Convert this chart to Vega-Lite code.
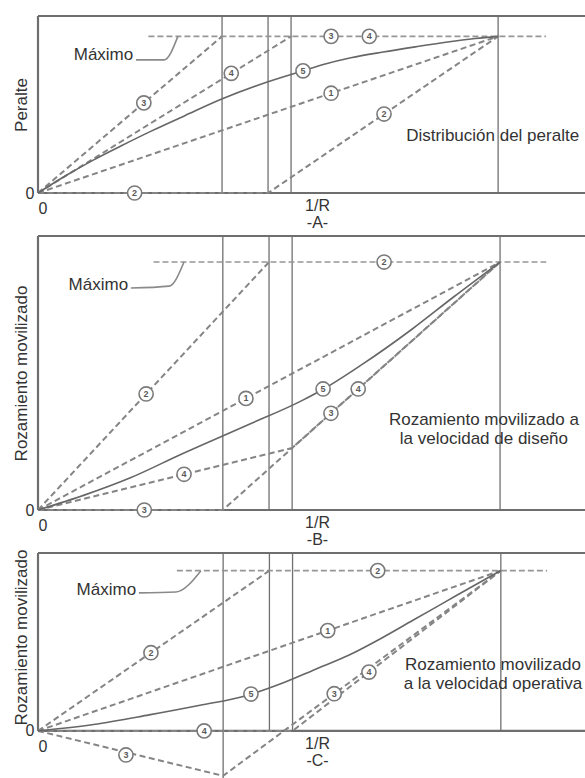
{
  "$schema": "https://vega.github.io/schema/vega-lite/v6.json",
  "background": "white",
  "padding": {"left": 12, "top": 14, "right": 0, "bottom": 0},
  "bounds": "flush",
  "spacing": 43,
  "config": {
    "font": "Liberation Sans",
    "view": {"stroke": null},
    "axis": {"labelColor": "#333333", "titleColor": "#333333", "labelFontSize": 16, "titleFontSize": 17, "titleFontWeight": "normal", "grid": false, "ticks": false, "domain": false}
  },
  "resolve": {"scale": {"x": "independent", "y": "independent"}},
  "datasets": {
    "marco": [
      {"panel": "A", "x": 0, "y": 0, "x2": 0, "y2": 113},
      {"panel": "A", "x": 0, "y": 113, "x2": 119.1, "y2": 113},
      {"panel": "A", "x": 0, "y": 0, "x2": 119.1, "y2": 0},
      {"panel": "B", "x": 0, "y": 0, "x2": 0, "y2": 110.5},
      {"panel": "B", "x": 0, "y": 110.5, "x2": 118.6, "y2": 110.5},
      {"panel": "B", "x": 0, "y": 0, "x2": 118.6, "y2": 0},
      {"panel": "C", "x": 0, "y": 0, "x2": 0, "y2": 111},
      {"panel": "C", "x": 0, "y": 111, "x2": 118.4, "y2": 111},
      {"panel": "C", "x": 0, "y": 0, "x2": 118.4, "y2": 0}
    ],
    "guias": [
      {"panel": "A", "x": 40, "y": 0, "x2": 40, "y2": 113},
      {"panel": "A", "x": 50, "y": 0, "x2": 50, "y2": 113},
      {"panel": "A", "x": 55, "y": 0, "x2": 55, "y2": 113},
      {"panel": "A", "x": 100, "y": 0, "x2": 100, "y2": 113},
      {"panel": "B", "x": 40, "y": 0, "x2": 40, "y2": 110.5},
      {"panel": "B", "x": 50, "y": 0, "x2": 50, "y2": 110.5},
      {"panel": "B", "x": 55, "y": 0, "x2": 55, "y2": 110.5},
      {"panel": "B", "x": 100, "y": 0, "x2": 100, "y2": 110.5},
      {"panel": "C", "x": 40, "y": -30, "x2": 40, "y2": 111},
      {"panel": "C", "x": 50, "y": 0, "x2": 50, "y2": 111},
      {"panel": "C", "x": 55, "y": 0, "x2": 55, "y2": 111},
      {"panel": "C", "x": 100, "y": 0, "x2": 100, "y2": 111}
    ],
    "maximo": [
      {"panel": "A", "x": 24, "y": 100}, {"panel": "A", "x": 110.4, "y": 100},
      {"panel": "B", "x": 25, "y": 100}, {"panel": "B", "x": 110, "y": 100},
      {"panel": "C", "x": 30, "y": 100}, {"panel": "C", "x": 110, "y": 100}
    ],
    "indicador": [
      {"panel": "A", "x": 21.3, "y": 85}, {"panel": "A", "x": 27.4, "y": 85}, {"panel": "A", "x": 30.4, "y": 100},
      {"panel": "B", "x": 20.1, "y": 89.5}, {"panel": "B", "x": 28.4, "y": 90.3}, {"panel": "B", "x": 31.6, "y": 100},
      {"panel": "C", "x": 21.8, "y": 86.1}, {"panel": "C", "x": 29.8, "y": 86.7}, {"panel": "C", "x": 35.2, "y": 100}
    ],
    "metodos": [
      {"panel": "A", "metodo": 1, "x": 0, "y": 0}, {"panel": "A", "metodo": 1, "x": 100, "y": 100},
      {"panel": "A", "metodo": 2, "x": 0, "y": 0}, {"panel": "A", "metodo": 2, "x": 50, "y": 0}, {"panel": "A", "metodo": 2, "x": 100, "y": 100},
      {"panel": "A", "metodo": 3, "x": 0, "y": 0}, {"panel": "A", "metodo": 3, "x": 40, "y": 100},
      {"panel": "A", "metodo": 4, "x": 0, "y": 0}, {"panel": "A", "metodo": 4, "x": 55, "y": 100},
      {"panel": "A", "metodo": 5, "x": 0, "y": 0}, {"panel": "A", "metodo": 5, "x": 6, "y": 11},
      {"panel": "A", "metodo": 5, "x": 12, "y": 21}, {"panel": "A", "metodo": 5, "x": 18, "y": 30},
      {"panel": "A", "metodo": 5, "x": 24.6, "y": 39.5}, {"panel": "A", "metodo": 5, "x": 32, "y": 49.5},
      {"panel": "A", "metodo": 5, "x": 39.8, "y": 59.8}, {"panel": "A", "metodo": 5, "x": 50, "y": 71},
      {"panel": "A", "metodo": 5, "x": 57.6, "y": 78}, {"panel": "A", "metodo": 5, "x": 62, "y": 82},
      {"panel": "A", "metodo": 5, "x": 68, "y": 86.3}, {"panel": "A", "metodo": 5, "x": 75, "y": 90},
      {"panel": "A", "metodo": 5, "x": 82, "y": 93.3}, {"panel": "A", "metodo": 5, "x": 89, "y": 96.4},
      {"panel": "A", "metodo": 5, "x": 95, "y": 98.6}, {"panel": "A", "metodo": 5, "x": 100, "y": 100},

      {"panel": "B", "metodo": 1, "x": 0, "y": 0}, {"panel": "B", "metodo": 1, "x": 100, "y": 100},
      {"panel": "B", "metodo": 2, "x": 0, "y": 0}, {"panel": "B", "metodo": 2, "x": 50, "y": 100},
      {"panel": "B", "metodo": 3, "x": 0, "y": 0}, {"panel": "B", "metodo": 3, "x": 40, "y": 0}, {"panel": "B", "metodo": 3, "x": 100, "y": 100},
      {"panel": "B", "metodo": 4, "x": 0, "y": 0}, {"panel": "B", "metodo": 4, "x": 55, "y": 25}, {"panel": "B", "metodo": 4, "x": 100, "y": 100},
      {"panel": "B", "metodo": 5, "x": 0, "y": 0}, {"panel": "B", "metodo": 5, "x": 10, "y": 6},
      {"panel": "B", "metodo": 5, "x": 20, "y": 13}, {"panel": "B", "metodo": 5, "x": 31, "y": 22.5},
      {"panel": "B", "metodo": 5, "x": 45, "y": 34}, {"panel": "B", "metodo": 5, "x": 57, "y": 44},
      {"panel": "B", "metodo": 5, "x": 62, "y": 49}, {"panel": "B", "metodo": 5, "x": 70, "y": 58.5},
      {"panel": "B", "metodo": 5, "x": 81, "y": 73}, {"panel": "B", "metodo": 5, "x": 90, "y": 86},
      {"panel": "B", "metodo": 5, "x": 100, "y": 100},

      {"panel": "C", "metodo": 1, "x": 0, "y": 0}, {"panel": "C", "metodo": 1, "x": 100, "y": 100},
      {"panel": "C", "metodo": 2, "x": 0, "y": 0}, {"panel": "C", "metodo": 2, "x": 50, "y": 100},
      {"panel": "C", "metodo": 3, "x": 0, "y": 0}, {"panel": "C", "metodo": 3, "x": 40, "y": -28}, {"panel": "C", "metodo": 3, "x": 100, "y": 100},
      {"panel": "C", "metodo": 4, "x": 0, "y": 0}, {"panel": "C", "metodo": 4, "x": 55, "y": 0}, {"panel": "C", "metodo": 4, "x": 100, "y": 100},
      {"panel": "C", "metodo": 5, "x": 0, "y": 0}, {"panel": "C", "metodo": 5, "x": 12, "y": 4},
      {"panel": "C", "metodo": 5, "x": 24, "y": 10}, {"panel": "C", "metodo": 5, "x": 35, "y": 16},
      {"panel": "C", "metodo": 5, "x": 45, "y": 22}, {"panel": "C", "metodo": 5, "x": 53, "y": 30},
      {"panel": "C", "metodo": 5, "x": 60, "y": 38.5}, {"panel": "C", "metodo": 5, "x": 67, "y": 47},
      {"panel": "C", "metodo": 5, "x": 74, "y": 57.5}, {"panel": "C", "metodo": 5, "x": 81, "y": 69},
      {"panel": "C", "metodo": 5, "x": 88, "y": 80.5}, {"panel": "C", "metodo": 5, "x": 95, "y": 92},
      {"panel": "C", "metodo": 5, "x": 100, "y": 100}
    ],
    "etiquetas": [
      {"panel": "A", "n": "3", "x": 63.7, "y": 100},
      {"panel": "A", "n": "4", "x": 72, "y": 100},
      {"panel": "A", "n": "4", "x": 42, "y": 76.4},
      {"panel": "A", "n": "3", "x": 23, "y": 57.5},
      {"panel": "A", "n": "5", "x": 57.6, "y": 78},
      {"panel": "A", "n": "1", "x": 63.7, "y": 63.7},
      {"panel": "A", "n": "2", "x": 75.2, "y": 50.4},
      {"panel": "A", "n": "2", "x": 21, "y": 0},
      {"panel": "B", "n": "2", "x": 23.4, "y": 46.8},
      {"panel": "B", "n": "1", "x": 45, "y": 45},
      {"panel": "B", "n": "4", "x": 31.6, "y": 14.4},
      {"panel": "B", "n": "3", "x": 23, "y": 0},
      {"panel": "B", "n": "2", "x": 74.9, "y": 100},
      {"panel": "B", "n": "5", "x": 61.7, "y": 48.8},
      {"panel": "B", "n": "4", "x": 69.3, "y": 48.8},
      {"panel": "B", "n": "3", "x": 63.4, "y": 39},
      {"panel": "C", "n": "2", "x": 24.4, "y": 48.8},
      {"panel": "C", "n": "2", "x": 73.4, "y": 100},
      {"panel": "C", "n": "1", "x": 62.6, "y": 62.6},
      {"panel": "C", "n": "5", "x": 46, "y": 23},
      {"panel": "C", "n": "4", "x": 35.9, "y": 0},
      {"panel": "C", "n": "3", "x": 19, "y": -15},
      {"panel": "C", "n": "4", "x": 71.5, "y": 36.7},
      {"panel": "C", "n": "3", "x": 64, "y": 23.2}
    ],
    "notas": [
      {"panel": "A", "tipo": "max", "texto": "Máximo", "x": 20.7, "y": 88},
      {"panel": "B", "tipo": "max", "texto": "Máximo", "x": 19.5, "y": 90.7},
      {"panel": "C", "tipo": "max", "texto": "Máximo", "x": 21.2, "y": 88},
      {"panel": "A", "tipo": "desc", "texto": "Distribución del peralte", "x": 117.6, "y": 36.4},
      {"panel": "B", "tipo": "desc", "texto": "Rozamiento movilizado a\nla velocidad de diseño", "x": 96.5, "y": 36.3},
      {"panel": "C", "tipo": "desc", "texto": "Rozamiento movilizado\na la velocidad operativa", "x": 98.3, "y": 41.2}
    ]
  },
  "vconcat": [
    {
      "width": 548,
      "height": 177,
      "encoding": {
        "x": {"field": "x", "type": "quantitative", "scale": {"domain": [0, 119.1], "nice": false, "zero": false},
              "axis": {"values": [0], "labelAlign": "left", "labelPadding": 7, "title": ["1/R", "-A-"], "titleFontSize": 16, "titleX": 279, "titleY": 4, "titleBaseline": "top", "titleAlign": "center", "titleLineHeight": 17}},
        "y": {"field": "y", "type": "quantitative", "scale": {"domain": [0, 113], "nice": false, "zero": false},
              "axis": {"values": [0], "labelPadding": 4, "title": "Peralte", "titlePadding": -5}}
      },
      "layer": [
        {"data": {"name": "guias"}, "transform": [{"filter": "datum.panel === 'A'"}], "mark": {"type": "rule", "color": "#707070", "strokeWidth": 1.3}, "encoding": {"x2": {"field": "x2"}, "y2": {"field": "y2"}}},
        {"data": {"name": "marco"}, "transform": [{"filter": "datum.panel === 'A'"}], "mark": {"type": "rule", "color": "#6e6e6e", "strokeWidth": 2.2}, "encoding": {"x2": {"field": "x2"}, "y2": {"field": "y2"}}},
        {"data": {"name": "maximo"}, "transform": [{"filter": "datum.panel === 'A'"}], "mark": {"type": "line", "color": "#969696", "strokeWidth": 1.6, "strokeDash": [6, 3]}, "encoding": {}},
        {"data": {"name": "indicador"}, "transform": [{"filter": "datum.panel === 'A'"}], "mark": {"type": "line", "color": "#8a8a8a", "strokeWidth": 1.6, "interpolate": "monotone"}, "encoding": {}},
        {"data": {"name": "metodos"}, "transform": [{"filter": "datum.panel === 'A' && datum.metodo !== 5"}], "mark": {"type": "line", "color": "#858585", "strokeWidth": 2, "strokeDash": [6, 3.5]}, "encoding": {"detail": {"field": "metodo"}}},
        {"data": {"name": "metodos"}, "transform": [{"filter": "datum.panel === 'A' && datum.metodo === 5"}], "mark": {"type": "line", "color": "#666666", "strokeWidth": 1.6, "interpolate": "monotone"}, "encoding": {}},
        {"data": {"name": "etiquetas"}, "transform": [{"filter": "datum.panel === 'A'"}], "mark": {"type": "point", "shape": "circle", "filled": false, "fill": "white", "fillOpacity": 1, "stroke": "#7a7a7a", "strokeWidth": 1.6, "size": 200, "opacity": 1}, "encoding": {}},
        {"data": {"name": "etiquetas"}, "transform": [{"filter": "datum.panel === 'A'"}], "mark": {"type": "text", "fontSize": 9, "fontWeight": "bold", "color": "#5a5a5a", "baseline": "middle"}, "encoding": {"text": {"field": "n"}}},
        {"data": {"name": "notas"}, "transform": [{"filter": "datum.panel === 'A' && datum.tipo === 'max'"}], "mark": {"type": "text", "fontSize": 17, "color": "#333333", "align": "right", "baseline": "middle"}, "encoding": {"text": {"field": "texto"}}},
        {"data": {"name": "notas"}, "transform": [{"filter": "datum.panel === 'A' && datum.tipo === 'desc'"}], "mark": {"type": "text", "fontSize": 17, "color": "#333333", "align": "right", "baseline": "middle"}, "encoding": {"text": {"field": "texto"}}}
      ]
    },
    {
      "width": 548,
      "height": 274,
      "encoding": {
        "x": {"field": "x", "type": "quantitative", "scale": {"domain": [0, 118.6], "nice": false, "zero": false},
              "axis": {"values": [0], "labelAlign": "left", "labelPadding": 7, "title": ["1/R", "-B-"], "titleFontSize": 16, "titleX": 279, "titleY": 4, "titleBaseline": "top", "titleAlign": "center", "titleLineHeight": 17}},
        "y": {"field": "y", "type": "quantitative", "scale": {"domain": [0, 110.5], "nice": false, "zero": false},
              "axis": {"values": [0], "labelPadding": 4, "title": "Rozamiento movilizado", "titlePadding": -5}}
      },
      "layer": [
        {"data": {"name": "guias"}, "transform": [{"filter": "datum.panel === 'B'"}], "mark": {"type": "rule", "color": "#707070", "strokeWidth": 1.3}, "encoding": {"x2": {"field": "x2"}, "y2": {"field": "y2"}}},
        {"data": {"name": "marco"}, "transform": [{"filter": "datum.panel === 'B'"}], "mark": {"type": "rule", "color": "#6e6e6e", "strokeWidth": 2.2}, "encoding": {"x2": {"field": "x2"}, "y2": {"field": "y2"}}},
        {"data": {"name": "maximo"}, "transform": [{"filter": "datum.panel === 'B'"}], "mark": {"type": "line", "color": "#969696", "strokeWidth": 1.6, "strokeDash": [6, 3]}, "encoding": {}},
        {"data": {"name": "indicador"}, "transform": [{"filter": "datum.panel === 'B'"}], "mark": {"type": "line", "color": "#8a8a8a", "strokeWidth": 1.6, "interpolate": "monotone"}, "encoding": {}},
        {"data": {"name": "metodos"}, "transform": [{"filter": "datum.panel === 'B' && datum.metodo !== 5"}], "mark": {"type": "line", "color": "#858585", "strokeWidth": 2, "strokeDash": [6, 3.5]}, "encoding": {"detail": {"field": "metodo"}}},
        {"data": {"name": "metodos"}, "transform": [{"filter": "datum.panel === 'B' && datum.metodo === 5"}], "mark": {"type": "line", "color": "#666666", "strokeWidth": 1.6, "interpolate": "monotone"}, "encoding": {}},
        {"data": {"name": "etiquetas"}, "transform": [{"filter": "datum.panel === 'B'"}], "mark": {"type": "point", "shape": "circle", "filled": false, "fill": "white", "fillOpacity": 1, "stroke": "#7a7a7a", "strokeWidth": 1.6, "size": 200, "opacity": 1}, "encoding": {}},
        {"data": {"name": "etiquetas"}, "transform": [{"filter": "datum.panel === 'B'"}], "mark": {"type": "text", "fontSize": 9, "fontWeight": "bold", "color": "#5a5a5a", "baseline": "middle"}, "encoding": {"text": {"field": "n"}}},
        {"data": {"name": "notas"}, "transform": [{"filter": "datum.panel === 'B' && datum.tipo === 'max'"}], "mark": {"type": "text", "fontSize": 17, "color": "#333333", "align": "right", "baseline": "middle"}, "encoding": {"text": {"field": "texto"}}},
        {"data": {"name": "notas"}, "transform": [{"filter": "datum.panel === 'B' && datum.tipo === 'desc'"}], "mark": {"type": "text", "fontSize": 17, "color": "#333333", "align": "center", "baseline": "middle", "lineBreak": "\n", "lineHeight": 19}, "encoding": {"text": {"field": "texto"}}}
      ]
    },
    {
      "width": 548,
      "height": 226,
      "encoding": {
        "x": {"field": "x", "type": "quantitative", "scale": {"domain": [0, 118.4], "nice": false, "zero": false},
              "axis": {"values": [0], "offset": -48, "labelAlign": "left", "labelPadding": 7, "title": ["1/R", "-C-"], "titleFontSize": 16, "titleX": 279, "titleY": 4, "titleBaseline": "top", "titleAlign": "center", "titleLineHeight": 17}},
        "y": {"field": "y", "type": "quantitative", "scale": {"domain": [-30, 111], "nice": false, "zero": false},
              "axis": {"values": [0], "labelPadding": 4, "title": "Rozamiento movilizado", "titlePadding": -5, "titleY": 84}}
      },
      "layer": [
        {"data": {"name": "guias"}, "transform": [{"filter": "datum.panel === 'C'"}], "mark": {"type": "rule", "color": "#707070", "strokeWidth": 1.3}, "encoding": {"x2": {"field": "x2"}, "y2": {"field": "y2"}}},
        {"data": {"name": "marco"}, "transform": [{"filter": "datum.panel === 'C'"}], "mark": {"type": "rule", "color": "#6e6e6e", "strokeWidth": 2.2}, "encoding": {"x2": {"field": "x2"}, "y2": {"field": "y2"}}},
        {"data": {"name": "maximo"}, "transform": [{"filter": "datum.panel === 'C'"}], "mark": {"type": "line", "color": "#969696", "strokeWidth": 1.6, "strokeDash": [6, 3]}, "encoding": {}},
        {"data": {"name": "indicador"}, "transform": [{"filter": "datum.panel === 'C'"}], "mark": {"type": "line", "color": "#8a8a8a", "strokeWidth": 1.6, "interpolate": "monotone"}, "encoding": {}},
        {"data": {"name": "metodos"}, "transform": [{"filter": "datum.panel === 'C' && datum.metodo !== 5"}], "mark": {"type": "line", "color": "#858585", "strokeWidth": 2, "strokeDash": [6, 3.5]}, "encoding": {"detail": {"field": "metodo"}}},
        {"data": {"name": "metodos"}, "transform": [{"filter": "datum.panel === 'C' && datum.metodo === 5"}], "mark": {"type": "line", "color": "#666666", "strokeWidth": 1.6, "interpolate": "monotone"}, "encoding": {}},
        {"data": {"name": "etiquetas"}, "transform": [{"filter": "datum.panel === 'C'"}], "mark": {"type": "point", "shape": "circle", "filled": false, "fill": "white", "fillOpacity": 1, "stroke": "#7a7a7a", "strokeWidth": 1.6, "size": 200, "opacity": 1}, "encoding": {}},
        {"data": {"name": "etiquetas"}, "transform": [{"filter": "datum.panel === 'C'"}], "mark": {"type": "text", "fontSize": 9, "fontWeight": "bold", "color": "#5a5a5a", "baseline": "middle"}, "encoding": {"text": {"field": "n"}}},
        {"data": {"name": "notas"}, "transform": [{"filter": "datum.panel === 'C' && datum.tipo === 'max'"}], "mark": {"type": "text", "fontSize": 17, "color": "#333333", "align": "right", "baseline": "middle"}, "encoding": {"text": {"field": "texto"}}},
        {"data": {"name": "notas"}, "transform": [{"filter": "datum.panel === 'C' && datum.tipo === 'desc'"}], "mark": {"type": "text", "fontSize": 17, "color": "#333333", "align": "center", "baseline": "middle", "lineBreak": "\n", "lineHeight": 19}, "encoding": {"text": {"field": "texto"}}}
      ]
    }
  ]
}
